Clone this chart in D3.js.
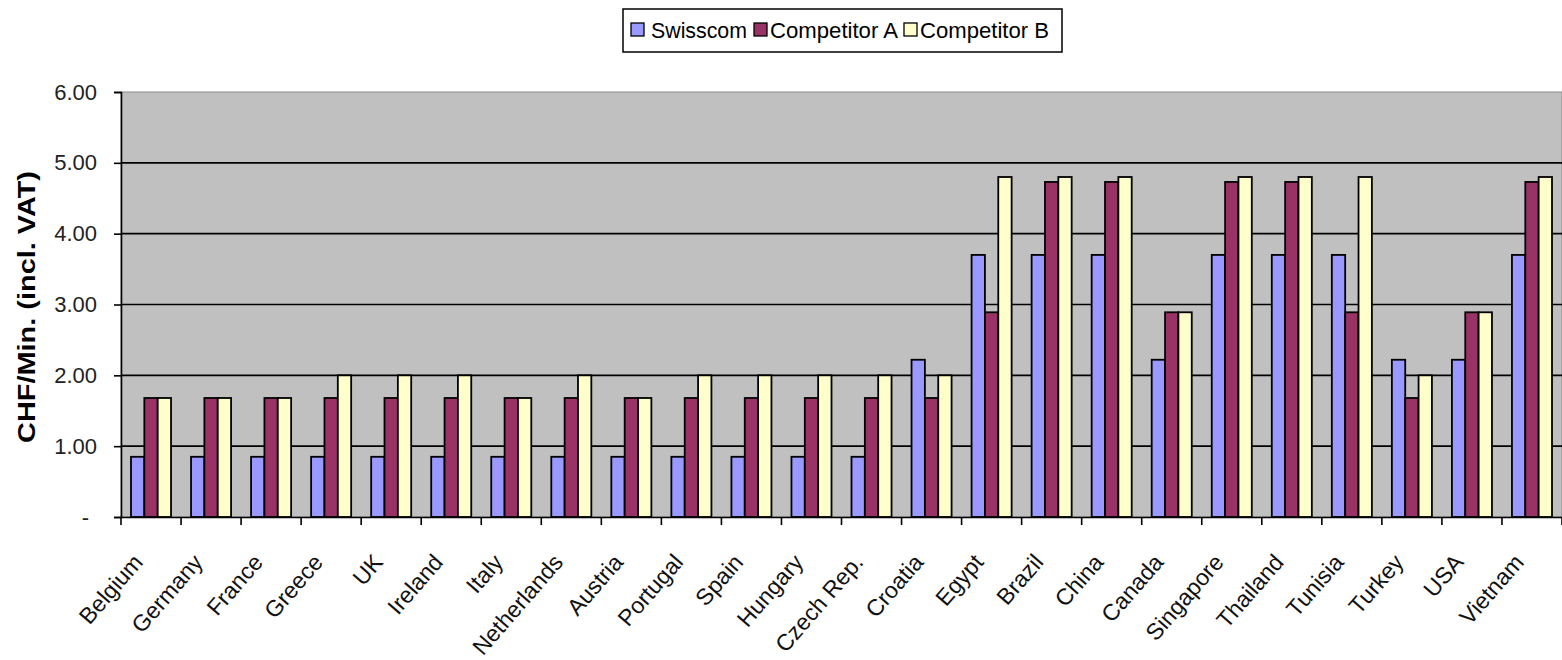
<!DOCTYPE html>
<html><head><meta charset="utf-8">
<script src="https://cdn.jsdelivr.net/npm/d3@7"></script>
<style>
html,body{margin:0;padding:0;background:#fff;}
svg{display:block;font-family:"Liberation Sans",Arial,sans-serif;}
</style></head>
<body>
<svg id="chart" width="1562" height="660"></svg>
<script>
const categories = ["Belgium","Germany","France","Greece","UK","Ireland","Italy","Netherlands","Austria","Portugal","Spain","Hungary","Czech Rep.","Croatia","Egypt","Brazil","China","Canada","Singapore","Thailand","Tunisia","Turkey","USA","Vietnam"];
const seriesNames = ["Swisscom","Competitor A","Competitor B"];
const swisscom    = [0.85,0.85,0.85,0.85,0.85,0.85,0.85,0.85,0.85,0.85,0.85,0.85,0.85,2.22,3.70,3.70,3.70,2.22,3.70,3.70,3.70,2.22,2.22,3.70];
const competitorA = [1.68,1.68,1.68,1.68,1.68,1.68,1.68,1.68,1.68,1.68,1.68,1.68,1.68,1.68,2.89,4.73,4.73,2.89,4.73,4.73,2.89,1.68,2.89,4.73];
const competitorB = [1.68,1.68,1.68,2.00,2.00,2.00,1.68,2.00,1.68,2.00,2.00,2.00,2.00,2.00,4.80,4.80,4.80,2.89,4.80,4.80,4.80,2.00,2.89,4.80];
const yTicks = [0,1,2,3,4,5,6];
const colors = ["#9999ff","#993366","#ffffcc"];
const yTitle = "CHF/Min. (incl. VAT)";

const svg = d3.select("#chart");
const mLeft = 121, mRight = 1562, mTop = 92, mBottom = 517;

const x0 = d3.scaleBand().domain(categories).range([mLeft, mRight]).padding(0);
const x1 = d3.scaleBand().domain(seriesNames).range([10, x0.bandwidth() - 10]).padding(0);
const y = d3.scaleLinear().domain([0, 6]).range([mBottom, mTop]);

// plot background
svg.append("rect").attr("x", mLeft).attr("y", mTop).attr("width", mRight - mLeft).attr("height", mBottom - mTop)
  .attr("fill", "#c0c0c0").attr("stroke", "#8a8a8a").attr("stroke-width", 1);

// gridlines
svg.append("g").selectAll("line").data(yTicks.filter(t => t > 0 && t < 6)).join("line")
  .attr("x1", mLeft).attr("x2", mRight).attr("y1", d => y(d)).attr("y2", d => y(d))
  .attr("stroke", "#000").attr("stroke-width", 1.6);

// bars
const data = categories.map((c, i) => ({c, vals: [swisscom[i], competitorA[i], competitorB[i]]}));
const groups = svg.append("g").selectAll("g").data(data).join("g")
  .attr("transform", d => `translate(${x0(d.c)},0)`);
groups.selectAll("rect").data(d => d.vals.map((v, j) => ({v, s: seriesNames[j], j}))).join("rect")
  .attr("x", d => x1(d.s)).attr("width", x1.bandwidth())
  .attr("y", d => y(d.v)).attr("height", d => y(0) - y(d.v))
  .attr("fill", d => colors[d.j]).attr("stroke", "#000").attr("stroke-width", 1.8);

// y axis
const yAxis = d3.axisLeft(y).tickValues(yTicks).tickSize(7).tickPadding(17)
  .tickFormat(d => d === 0 ? "-" : d.toFixed(2));
const gy = svg.append("g").attr("transform", `translate(${mLeft},0)`).call(yAxis);
gy.select(".domain").attr("stroke", "#000").attr("stroke-width", 1.6);
gy.selectAll(".tick line").attr("stroke", "#000").attr("stroke-width", 1.6);
gy.selectAll(".tick text").attr("font-size", 22).attr("fill", "#222")
  .attr("font-family", "'Liberation Sans',Arial,sans-serif");
gy.selectAll(".tick text").filter(d => d === 0).attr("dx", -8);

// x axis
const xAxis = d3.axisBottom(x0).tickSize(0).tickFormat("");
const gx = svg.append("g").attr("transform", `translate(0,${mBottom})`).call(xAxis);
gx.select(".domain").attr("stroke", "#000").attr("stroke-width", 1.6);
// boundary ticks
svg.append("g").selectAll("line").data(d3.range(categories.length + 1)).join("line")
  .attr("x1", i => mLeft + i * x0.step()).attr("x2", i => mLeft + i * x0.step())
  .attr("y1", mBottom).attr("y2", mBottom + 8).attr("stroke", "#000").attr("stroke-width", 1.6);

// x labels
svg.append("g").selectAll("text").data(categories).join("text")
  .attr("transform", d => `translate(${x0(d) + x0.bandwidth() / 2 - 7},${mBottom + 46}) rotate(-49)`)
  .attr("text-anchor", "end").attr("font-size", 23).attr("fill", "#111")
  .text(d => d);

// y title
svg.append("text").attr("transform", "translate(35,307) rotate(-90)")
  .attr("text-anchor", "middle").attr("font-size", 23).attr("font-weight", "bold")
  .attr("textLength", 272).attr("lengthAdjust", "spacingAndGlyphs")
  .text(yTitle);

// legend
const lg = svg.append("g");
lg.append("rect").attr("x", 623).attr("y", 9).attr("width", 439).attr("height", 43)
  .attr("fill", "#fff").attr("stroke", "#000").attr("stroke-width", 1.5);
const legendItems = [
  {name: seriesNames[0], sx: 631, tx: 651, tw: 96},
  {name: seriesNames[1], sx: 754, tx: 770, tw: 128},
  {name: seriesNames[2], sx: 904, tx: 920, tw: 129}
];
legendItems.forEach((it, j) => {
  lg.append("rect").attr("x", it.sx).attr("y", 23).attr("width", 13).attr("height", 13)
    .attr("fill", colors[j]).attr("stroke", "#000").attr("stroke-width", 1.3);
  lg.append("text").attr("x", it.tx).attr("y", 38).attr("font-size", 22)
    .attr("textLength", it.tw).attr("lengthAdjust", "spacingAndGlyphs").text(it.name);
});
</script>
</body></html>
